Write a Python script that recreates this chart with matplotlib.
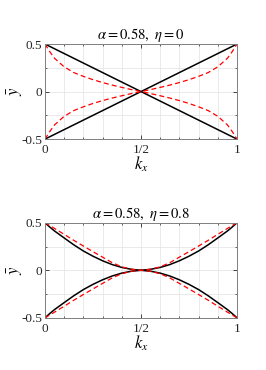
import matplotlib
matplotlib.use("Agg")
import matplotlib.pyplot as plt
import numpy as np

plt.rcParams['font.family'] = ['Liberation Serif', 'DejaVu Serif']
plt.rcParams['mathtext.fontset'] = 'stix'

# sample points in k_x
kx = [0, 0.025, 0.05, 0.1, 0.15, 0.2, 0.25, 0.3, 0.35, 0.4, 0.45, 0.5,
      0.55, 0.6, 0.65, 0.7, 0.75, 0.8, 0.85, 0.9, 0.95, 0.975, 1]

# panel 1 (eta = 0)
top_black_k = [0, 1]
top_black_down = [0.5, -0.5]
top_black_up = [-0.5, 0.5]
top_red_down = [0.5, 0.42, 0.35, 0.26, 0.20, 0.16, 0.125, 0.095, 0.068, 0.044, 0.021, 0,
                -0.021, -0.044, -0.068, -0.095, -0.125, -0.16, -0.20, -0.26, -0.35, -0.42, -0.5]
top_red_up = [-0.5, -0.42, -0.35, -0.26, -0.20, -0.16, -0.125, -0.095, -0.068, -0.044, -0.021, 0,
              0.021, 0.044, 0.068, 0.095, 0.125, 0.16, 0.20, 0.26, 0.35, 0.42, 0.5]

# panel 2 (eta = 0.8)
bot_black_down = [0.5, 0.455, 0.413, 0.34, 0.268, 0.203, 0.148, 0.1, 0.06, 0.03, 0.01, 0,
                  -0.01, -0.03, -0.06, -0.1, -0.148, -0.203, -0.268, -0.34, -0.413, -0.455, -0.5]
bot_black_up = [-0.5, -0.455, -0.413, -0.34, -0.268, -0.203, -0.148, -0.1, -0.06, -0.03, -0.01, 0,
                0.01, 0.03, 0.06, 0.1, 0.148, 0.203, 0.268, 0.34, 0.413, 0.455, 0.5]
bot_red_down = [0.5, 0.47, 0.44, 0.378, 0.315, 0.255, 0.196, 0.138, 0.08, 0.036, 0.011, 0,
                -0.011, -0.036, -0.08, -0.138, -0.196, -0.255, -0.315, -0.378, -0.44, -0.47, -0.5]
bot_red_up = [-0.5, -0.47, -0.44, -0.378, -0.315, -0.255, -0.196, -0.138, -0.08, -0.036, -0.011, 0,
              0.011, 0.036, 0.08, 0.138, 0.196, 0.255, 0.315, 0.378, 0.44, 0.47, 0.5]

titles = [r'$\alpha = 0.58,\ \eta =0$', r'$\alpha = 0.58,\ \eta =0.8$']
xticks = [0, 0.5, 1]
xticklabels = ['0', '1/2', '1']
yticks = [-0.5, 0, 0.5]
yticklabels = ['-0.5', '0', '0.5']

fig = plt.figure(figsize=(2.66, 3.70), dpi=100)
ax1 = fig.add_axes([0.169, 0.624, 0.722, 0.257])
ax2 = fig.add_axes([0.169, 0.141, 0.722, 0.257])

def style(ax, title):
    ax.set_xlim(0, 1)
    ax.set_ylim(-0.5, 0.5)
    ax.set_xticks(xticks)
    ax.set_xticklabels(xticklabels)
    ax.set_yticks(yticks)
    ax.set_yticklabels(yticklabels)
    ax.set_xticks(np.arange(0, 1.01, 0.1), minor=True)
    ax.set_yticks([-0.25, 0.25], minor=True)
    ax.grid(True, which='both', color='#e6e6e6', linewidth=0.6)
    ax.set_axisbelow(True)
    ax.tick_params(which='both', direction='in', top=True, right=True,
                   labelsize=9.5, colors='#262626')
    ax.tick_params(axis='x', pad=3.5)
    ax.tick_params(axis='y', pad=2)
    ax.tick_params(which='major', length=3, width=0.6)
    ax.tick_params(which='minor', length=1.6, width=0.5)
    for s in ax.spines.values():
        s.set_color('#7f7f7f')
        s.set_linewidth(0.7)
    ax.set_title(title, fontsize=10.5, pad=3)
    ax.set_xlabel(r'$k_x$', fontsize=12, labelpad=-1)
    ax.set_ylabel(r'$\bar{y}$', fontsize=12, labelpad=-3)

ax1.plot(top_black_k, top_black_down, '-k', lw=1.1)
ax1.plot(top_black_k, top_black_up, '-k', lw=1.1)
ax1.plot(kx, top_red_down, '--', color='r', lw=0.9, dashes=(4, 2.5))
ax1.plot(kx, top_red_up, '--', color='r', lw=0.9, dashes=(4, 2.5))
style(ax1, titles[0])

ax2.plot(kx, bot_black_down, '-k', lw=1.1)
ax2.plot(kx, bot_black_up, '-k', lw=1.1)
ax2.plot(kx, bot_red_down, '--', color='r', lw=0.9, dashes=(4, 2.5))
ax2.plot(kx, bot_red_up, '--', color='r', lw=0.9, dashes=(4, 2.5))
style(ax2, titles[1])

fig.savefig('out.png', dpi=100)
